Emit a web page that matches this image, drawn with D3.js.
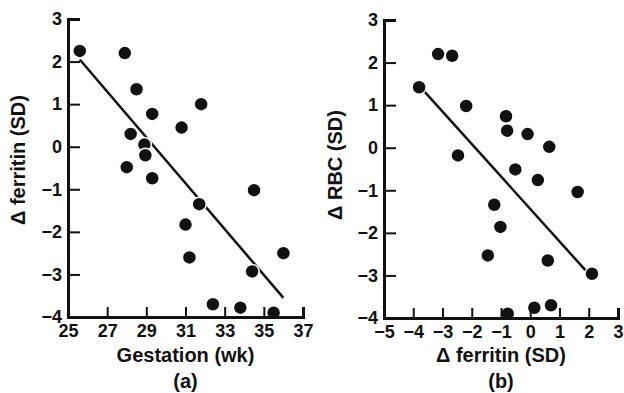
<!DOCTYPE html>
<html>
<head>
<meta charset="utf-8">
<script src="https://cdn.jsdelivr.net/npm/d3@7"></script>
<style>
  body { margin: 0; background: #fff; }
  svg text { font-family: "Liberation Sans", Arial, sans-serif; font-weight: bold; fill: #111; }
</style>
</head>
<body>
<div id="viz"></div>
<script>
// panel (a): gestation vs change in ferritin
var gestation = [25.6, 27.9, 28.5, 31.8, 29.3, 30.8, 28.2, 28.9, 28.95, 28.0, 29.3, 34.5, 31.7, 31.0, 31.2, 36.0, 34.4, 32.4, 33.8, 35.5];
var ferritinA = [2.25, 2.2, 1.35, 1.0, 0.77, 0.45, 0.3, 0.05, -0.2, -0.48, -0.74, -1.02, -1.35, -1.83, -2.6, -2.5, -2.93, -3.7, -3.78, -3.9];
var fitA = [[25.6, 2.05], [36.0, -3.55]];

// panel (b): change in ferritin vs change in RBC
var ferritinB = [-3.8, -3.15, -2.67, -2.19, -2.47, -0.83, -0.79, -0.09, 0.65, -0.51, 0.26, 1.62, -1.23, -1.02, -1.45, 0.6, 2.11, -0.77, 0.14, 0.71];
var rbc = [1.42, 2.2, 2.16, 0.98, -0.18, 0.74, 0.4, 0.32, 0.02, -0.51, -0.76, -1.04, -1.34, -1.86, -2.53, -2.65, -2.96, -3.9, -3.76, -3.7];
var fitB = [[-3.8, 1.46], [2.1, -3.04]];

var xTicksA = [25, 27, 29, 31, 33, 35, 37];
var xTicksB = [-5, -4, -3, -2, -1, 0, 1, 2, 3];
var yTicks = [-4, -3, -2, -1, 0, 1, 2, 3];

var width = 624, height = 393;

var svg = d3.select("#viz").append("svg")
  .attr("width", width)
  .attr("height", height);

function fmt(d) { return d < 0 ? "\u2212" + Math.abs(d) : "" + d; }

function panel(opt) {
  var x = d3.scaleLinear().domain(opt.xDomain).range(opt.xRange);
  var y = d3.scaleLinear().domain([-4, 3]).range(opt.yRange);
  var g = svg.append("g");

  var data = opt.xs.map(function(d, i) { return [d, opt.ys[i]]; });

  // fitted line
  g.append("path")
    .attr("d", d3.line().x(function(d) { return x(d[0]); }).y(function(d) { return y(d[1]); })(opt.fit))
    .attr("fill", "none")
    .attr("stroke", "#111")
    .attr("stroke-width", 2.5);

  g.selectAll("circle")
    .data(data)
    .enter()
    .append("circle")
      .attr("cx", function(d) { return x(d[0]); })
      .attr("cy", function(d) { return y(d[1]); })
      .attr("r", 7)
      .attr("fill", "#111")
      .attr("stroke", "#fff")
      .attr("stroke-width", 1.5);

  var yAxis = g.append("g")
    .attr("transform", "translate(" + opt.xRange[0] + ",0)")
    .call(d3.axisLeft(y).tickValues(yTicks).tickFormat(fmt).tickSize(-12).tickPadding(6));
  var xAxis = g.append("g")
    .attr("transform", "translate(0," + opt.yRange[0] + ")")
    .call(d3.axisBottom(x).tickValues(opt.xTicks).tickFormat(fmt).tickSize(-10).tickPadding(7));

  [yAxis, xAxis].forEach(function(a) {
    a.select(".domain").attr("stroke", "#111").attr("stroke-width", 3);
    a.selectAll(".tick line").attr("stroke", "#111").attr("stroke-width", 2);
    a.selectAll(".tick text").style("font-size", "18px").attr("fill", "#111");
  });

  g.append("text")
    .attr("x", (opt.xRange[0] + opt.xRange[1]) / 2)
    .attr("y", 362)
    .attr("text-anchor", "middle")
    .style("font-size", "20px")
    .text(opt.xTitle);

  g.append("text")
    .attr("x", (opt.xRange[0] + opt.xRange[1]) / 2)
    .attr("y", 388)
    .attr("text-anchor", "middle")
    .style("font-size", "20px")
    .text(opt.label);

  g.append("text")
    .attr("transform", "translate(" + opt.yTitleX + "," + opt.yTitleY + ") rotate(-90)")
    .attr("text-anchor", "middle")
    .style("font-size", "20px")
    .text(opt.yTitle);
}

panel({
  xs: gestation, ys: ferritinA, fit: fitA,
  xDomain: [25, 37], xRange: [68, 303], yRange: [317, 19],
  xTicks: xTicksA, xTitle: "Gestation (wk)", label: "(a)",
  yTitle: "\u0394 ferritin (SD)", yTitleX: 25, yTitleY: 160
});

panel({
  xs: ferritinB, ys: rbc, fit: fitB,
  xDomain: [-5, 3], xRange: [384, 618], yRange: [318, 20],
  xTicks: xTicksB, xTitle: "\u0394 ferritin (SD)", label: "(b)",
  yTitle: "\u0394 RBC (SD)", yTitleX: 342, yTitleY: 165
});
</script>
</body>
</html>
